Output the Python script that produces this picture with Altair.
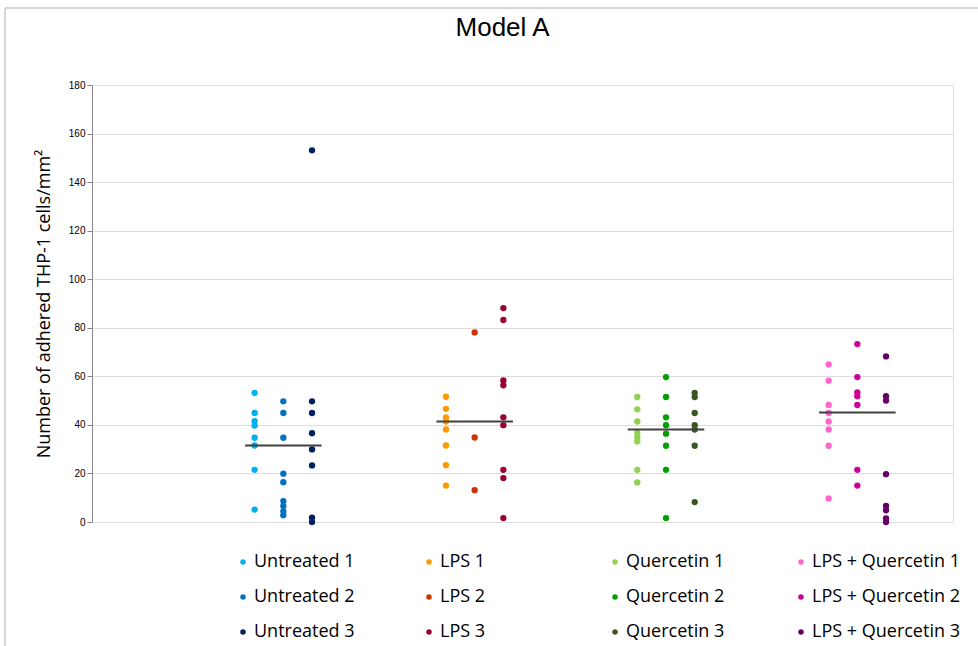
import altair as alt
import pandas as pd

groups = ["Untreated", "LPS", "Quercetin", "LPS + Quercetin"]
replicates = ["1", "2", "3"]

untreated_1 = [53.2, 44.9, 41.5, 39.7, 34.7, 31.5, 21.5, 5.1]
untreated_2 = [49.7, 44.9, 34.7, 19.9, 16.4, 8.6, 6.6, 4.5, 2.8]
untreated_3 = [153.1, 49.7, 44.9, 36.6, 29.9, 23.3, 1.8, 0.0]
lps_1 = [51.6, 46.6, 43.1, 41.4, 38.1, 31.5, 23.4, 15.0]
lps_2 = [78.1, 34.8, 13.1]
lps_3 = [88.1, 83.2, 58.3, 56.3, 43.1, 39.9, 21.5, 18.1, 1.6]
quercetin_1 = [51.5, 46.4, 41.4, 36.7, 34.9, 33.2, 21.5, 16.3]
quercetin_2 = [59.7, 51.5, 43.1, 39.9, 36.4, 31.4, 21.5, 1.6]
quercetin_3 = [53.2, 51.5, 44.9, 39.9, 38.1, 31.4, 8.2]
lps_quercetin_1 = [64.9, 58.2, 48.2, 44.9, 41.4, 38.1, 31.4, 9.7]
lps_quercetin_2 = [73.3, 59.7, 53.4, 51.8, 48.2, 21.5, 15.0]
lps_quercetin_3 = [68.2, 51.8, 50.0, 19.7, 6.6, 4.8, 1.5, 0.0]

group_lines = [31.5, 41.4, 38.1, 45.1]

series_values = [
    [untreated_1, untreated_2, untreated_3],
    [lps_1, lps_2, lps_3],
    [quercetin_1, quercetin_2, quercetin_3],
    [lps_quercetin_1, lps_quercetin_2, lps_quercetin_3],
]

series_colors = {
    "Untreated 1": "#00B0F0", "Untreated 2": "#0070C0", "Untreated 3": "#002060",
    "LPS 1": "#FF9900", "LPS 2": "#CC3300", "LPS 3": "#990033",
    "Quercetin 1": "#92D050", "Quercetin 2": "#00A000", "Quercetin 3": "#385723",
    "LPS + Quercetin 1": "#FF66CC", "LPS + Quercetin 2": "#CC0099", "LPS + Quercetin 3": "#660066",
}

rows = []
for gi, g in enumerate(groups):
    for ri, r in enumerate(replicates):
        for v in series_values[gi][ri]:
            rows.append({"series": f"{g} {r}", "x": (gi + 1) + (ri - 1) * 0.15, "value": v})
df = pd.DataFrame(rows)

med = pd.DataFrame({
    "group": groups,
    "x": [i + 1 - 0.2 for i in range(len(groups))],
    "x2": [i + 1 + 0.2 for i in range(len(groups))],
    "y": group_lines,
})

# legend fills columns top-to-bottom (3 rows x 4 columns)
legend_order = [f"{g} {r}" for g in groups for r in replicates]
legend_colors = [series_colors[s] for s in legend_order]

xscale = alt.Scale(domain=[0, 4.5], nice=False, zero=False)
yscale = alt.Scale(domain=[0, 180], nice=False)

points = alt.Chart(df).mark_circle(size=40, opacity=1).encode(
    x=alt.X("x:Q", scale=xscale, axis=None),
    y=alt.Y(
        "value:Q",
        scale=yscale,
        axis=alt.Axis(
            values=list(range(0, 181, 20)),
            title="Number of adhered THP-1 cells/mm²",
            titleFont="Open Sans",
            titleFontSize=18,
            titleFontWeight="normal",
            titleColor="#000000",
            titleAngle=-90,
            titleAlign="center",
            titleBaseline="alphabetic",
            titleX=-42.7,
            titleY=218.5,
        ),
    ),
    color=alt.Color(
        "series:N",
        scale=alt.Scale(domain=legend_order, range=legend_colors),
        legend=alt.Legend(
            orient="none",
            legendX=142,
            legendY=468,
            columns=4,
            title=None,
            symbolType="circle",
            symbolSize=30,
            symbolStrokeWidth=0,
            labelFont="Open Sans",
            labelFontSize=18,
            labelColor="#000000",
            labelOffset=2,
            columnPadding=18,
            rowPadding=17,
            gridAlign="all",
            labelLimit=400,
            padding=0,
        ),
    ),
)

lines = alt.Chart(med).mark_rule(color="#404040", strokeWidth=2).encode(
    x=alt.X("x:Q", scale=xscale),
    x2="x2:Q",
    y=alt.Y("y:Q", scale=yscale),
)

frame_src = pd.DataFrame({"k": [0]})
frame_top = alt.Chart(frame_src).mark_rule(color="#C8C8C8", strokeWidth=1.5).encode(
    x=alt.value(-87), x2=alt.value(900), y=alt.value(-77)
)
frame_left = alt.Chart(frame_src).mark_rule(color="#C8C8C8", strokeWidth=1.5).encode(
    x=alt.value(-87), y=alt.value(-77), y2=alt.value(570)
)

chart = alt.layer(frame_top, frame_left, points, lines).properties(
    width=861,
    height=437,
    autosize="none",
    padding={"left": 92, "top": 85, "right": 25, "bottom": 124},
    title=alt.Title(
        "Model A",
        font="Liberation Sans",
        fontSize=26,
        fontWeight="normal",
        color="#000000",
        anchor="middle",
        frame="group",
        baseline="alphabetic",
        offset=-55,
        dx=-20,
    ),
).configure_view(stroke=None).configure_axis(
    grid=True,
    gridColor="#D9D9D9",
    gridWidth=1,
    domainColor="#D9D9D9",
    domainWidth=1,
    ticks=False,
    tickSize=0,
    labelFont="Open Sans",
    labelFontSize=11.5,
    labelColor="#404040",
    labelPadding=14,
).configure(background="white")

chart.save("out.html", embed_options={"renderer": "svg", "actions": False})
